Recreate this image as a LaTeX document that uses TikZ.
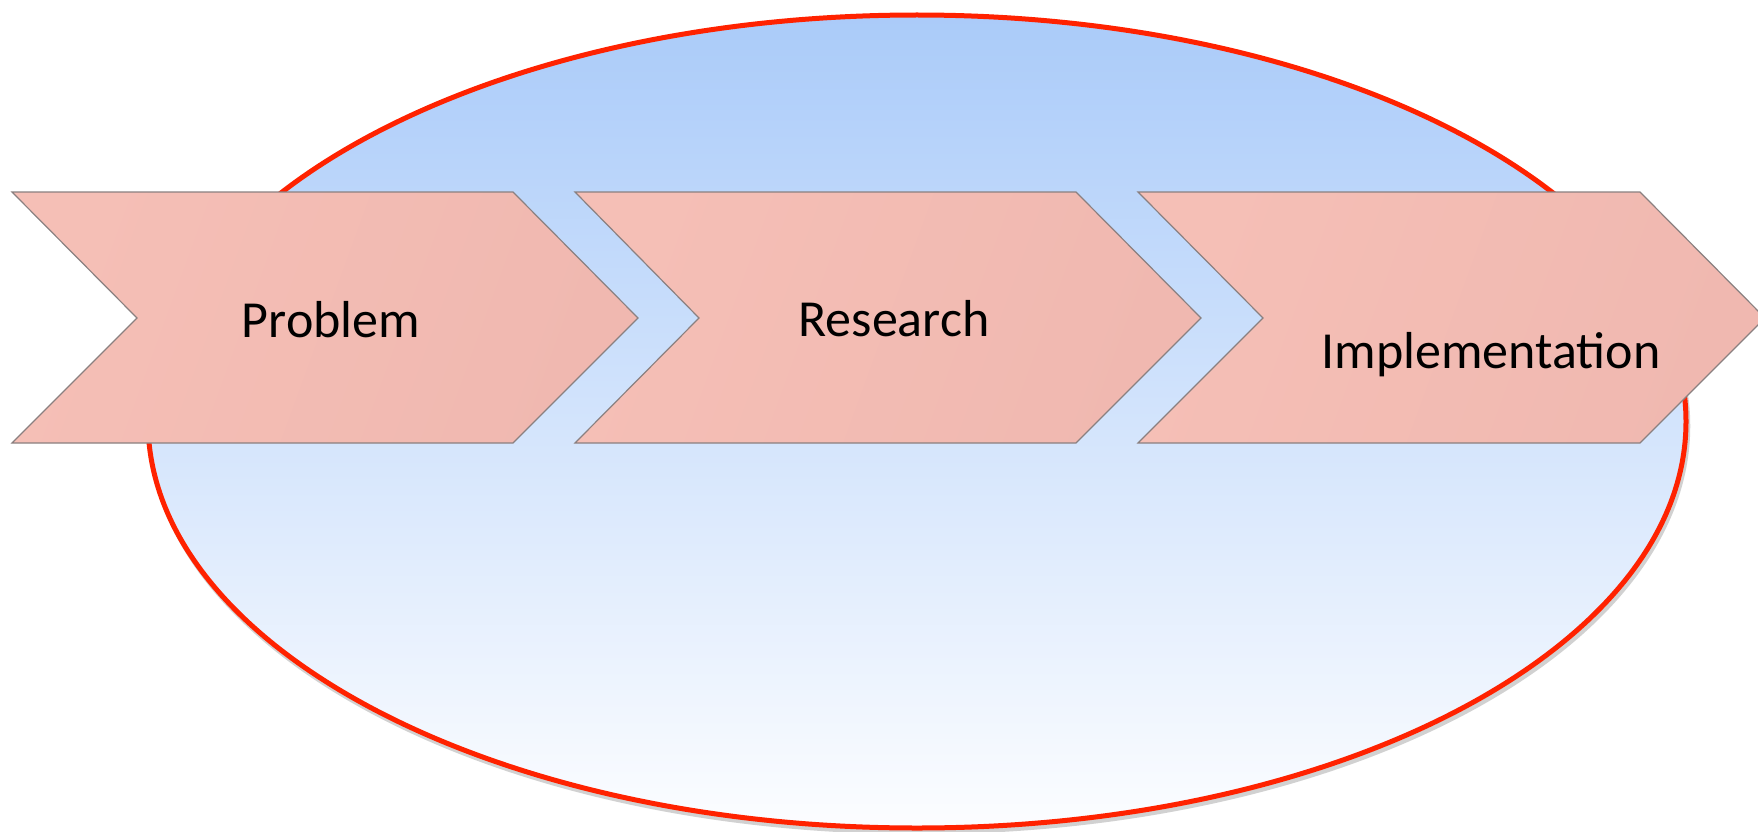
\documentclass[tikz,border=0pt]{standalone}
\usepackage{fontspec}
\setmainfont{Carlito}
\definecolor{ellTop}{HTML}{AACBF9}
\definecolor{ellBot}{HTML}{FCFDFF}
\definecolor{ellLine}{HTML}{FF2200}
\definecolor{chevA}{HTML}{F5BFB6}
\definecolor{chevM}{HTML}{F4BDB4}
\definecolor{chevB}{HTML}{F0B8B0}
\definecolor{chevLine}{HTML}{8A8080}
\tikzset{
  chevron/.style={left color=chevA, middle color=chevM, right color=chevB, shading angle=70, draw=chevLine, line width=1.2pt, line join=miter},
  label/.style={font=\fontsize{52}{60}\selectfont, anchor=base, inner sep=0pt, text=black}
}
\begin{document}
\begin{tikzpicture}[x=1pt,y=-1pt]
\clip (0,0) rectangle (1758,832);
\fill[white] (0,0) rectangle (1758,832);
% ellipse shadow
\draw[black!18, line width=4.5pt] (919,426) ellipse [x radius=769pt, y radius=406pt];
% ellipse
\draw[top color=ellTop, bottom color=ellBot, draw=ellLine, line width=5pt] (917,421.5) ellipse [x radius=769pt, y radius=406.5pt];
% chevrons
\draw[chevron] (12,192) -- (513,192) -- (638,318) -- (513,443) -- (12,443) -- (137,318) -- cycle;
\draw[chevron] (575,192) -- (1076,192) -- (1201,318) -- (1076,443) -- (575,443) -- (699,318) -- cycle;
\draw[chevron] (1138,192) -- (1640,192) -- (1765,318) -- (1640,443) -- (1138,443) -- (1263,318) -- cycle;
% labels
\node[label] (problem) at (331,337) {Problem};
\node[label] (research) at (894,336) {Research};
\node[label] (implementation) at (1491,368) {Implementation};
\end{tikzpicture}
\end{document}
